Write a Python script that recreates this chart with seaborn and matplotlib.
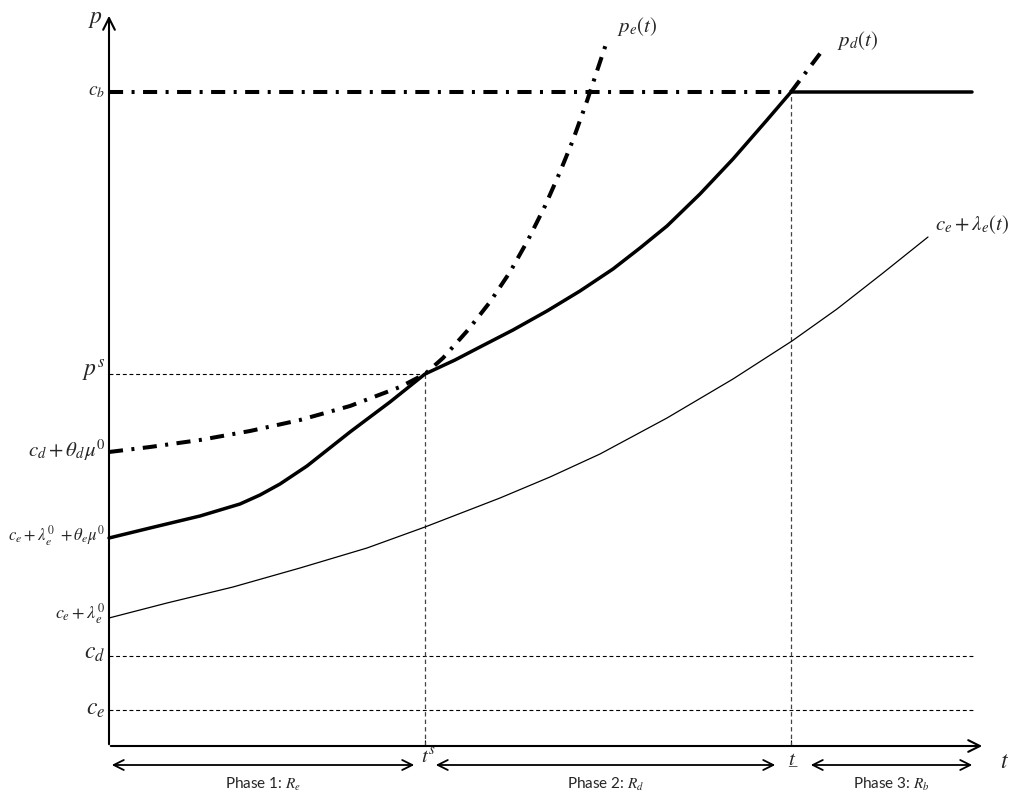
import matplotlib
matplotlib.use("Agg")
import matplotlib.pyplot as plt
import seaborn as sns

# ---- data (t measured right of the p-axis, p measured up from the t-axis) ----
t_s = 316
t_bar = 682
t_end = 876
p_top = 733
line_end = 866

c_b = 654
p_s = 372
cd_theta = 294
ce_lam_theta = 208
ce_lam0 = 128
c_d = 90
c_e = 36

# p_e(t) dash-dot curve
pe_t = [0, 41, 91, 141, 191, 241, 291, 316, 334, 359, 381, 401, 419, 436, 451, 464, 478, 491, 498]
pe_p = [294, 299, 306, 315, 326, 340, 359, 372, 388, 416, 444, 474, 506, 540, 574, 606, 645, 684, 705]

# equilibrium price path (solid)
path_t = [0, 41, 91, 111, 131, 151, 171, 198, 241, 281, 316,
          346, 371, 404, 438, 471, 504, 531, 558, 591, 624, 658, 682, 863]
path_p = [208, 218, 230, 236, 242, 251, 262, 280, 314, 344, 372,
          386, 399, 416, 435, 455, 477, 498, 520, 552, 587, 626, 654, 654]

# p_d(t) extension above c_b
pd_t = [682, 716]
pd_p = [654, 699]

# c_e + lambda_e(t) thin curve
lam_t = [0, 58, 124, 191, 258, 316, 391, 441, 491, 558, 624, 683, 728, 774, 819]
lam_p = [128, 143, 159, 178, 198, 219, 248, 269, 292, 328, 367, 405, 437, 473, 509]

y_labels = [
    (r"$c_b$", c_b, 14),
    (r"$p^s$", p_s + 3, 17),
    (r"$c_d+\theta_d\mu^0$", cd_theta + 2, 15),
    (r"$c_e+\lambda_e^0\ +\theta_e\mu^0$", ce_lam_theta + 2, 12),
    (r"$c_e+\lambda_e^0$", ce_lam0 + 4, 13),
    (r"$c_d$", c_d + 2, 17),
    (r"$c_e$", c_e + 1, 17),
]

phases = [
    (0, 308, "Phase 1: $R_e$"),
    (324, 669, "Phase 2: $R_d$"),
    (699, 866, "Phase 3: $R_b$"),
]

sns.set_theme(style="white")
plt.rcParams["font.family"] = ["Liberation Serif", "DejaVu Serif"]
plt.rcParams["mathtext.fontset"] = "stix"

fig = plt.figure(figsize=(10.11, 7.95), dpi=100)
ax = fig.add_axes([0, 0, 1, 1])
ax.set_xlim(-109, 902)
ax.set_ylim(-49, 746)
ax.axis("off")

dashdot = (0, (3.5, 2.1, 0.75, 2.1))
thin_dash = (0, (3.5, 2.5))

# axes with arrow heads
ax.annotate("", xy=(0, p_top), xytext=(0, -1),
            arrowprops=dict(arrowstyle="->,head_length=0.7,head_width=0.35", lw=1.5, color="black"))
ax.annotate("", xy=(t_end, 0), xytext=(-1, 0),
            arrowprops=dict(arrowstyle="->,head_length=0.7,head_width=0.35", lw=1.5, color="black"))
ax.vlines([t_s, t_bar], 0, 6, color="black", lw=0.8)

# reference lines
ax.hlines([c_d, c_e], 0, line_end, color="black", lw=0.8, linestyle=thin_dash)
ax.hlines(p_s, 0, t_s, color="black", lw=0.8, linestyle=thin_dash)
ax.vlines(t_s, 0, p_s, color="#444444", lw=0.9, linestyle=thin_dash)
ax.vlines(t_bar, 0, c_b, color="#444444", lw=0.9, linestyle=thin_dash)
ax.hlines(c_b, 0, t_bar, color="black", lw=2.9, linestyle=dashdot)

# curves
sns.lineplot(x=lam_t, y=lam_p, ax=ax, color="black", lw=0.9, sort=False, estimator=None)
sns.lineplot(x=pe_t, y=pe_p, ax=ax, color="black", lw=2.9, linestyle=dashdot, sort=False, estimator=None)
sns.lineplot(x=pd_t, y=pd_p, ax=ax, color="black", lw=2.9, linestyle=dashdot, sort=False, estimator=None)
sns.lineplot(x=path_t, y=path_p, ax=ax, color="black", lw=2.5, sort=False, estimator=None)

# labels on the p-axis
ax.text(-6, p_top - 6, r"$p$", fontsize=17, ha="right", va="center")
for label, yv, fs in y_labels:
    ax.text(-4, yv, label, fontsize=fs, ha="right", va="center")

# curve labels
ax.text(508, 719, r"$p_e(t)$", fontsize=15, ha="left", va="center")
ax.text(728, 706, r"$p_d(t)$", fontsize=15, ha="left", va="center")
ax.text(826, 521, r"$c_e+\lambda_e(t)$", fontsize=15, ha="left", va="center")

# t-axis labels
ax.text(320, -12, r"$t^s$", fontsize=15, ha="center", va="center")
ax.text(683, -19, r"$t$", fontsize=15, ha="center", va="baseline")
ax.text(683, -19, "_", fontsize=12, ha="center", va="baseline")
ax.text(896, -16, r"$t$", fontsize=17, ha="center", va="center")

# phase arrows
for a, b, label in phases:
    ax.annotate("", xy=(b, -19), xytext=(a, -19),
                arrowprops=dict(arrowstyle="<->,head_length=0.6,head_width=0.3", lw=1.3, color="black"))
    ax.text((a + b) / 2, -38, label, fontsize=11, family="Lato", ha="center", va="center")

fig.savefig("out.png", dpi=100)
